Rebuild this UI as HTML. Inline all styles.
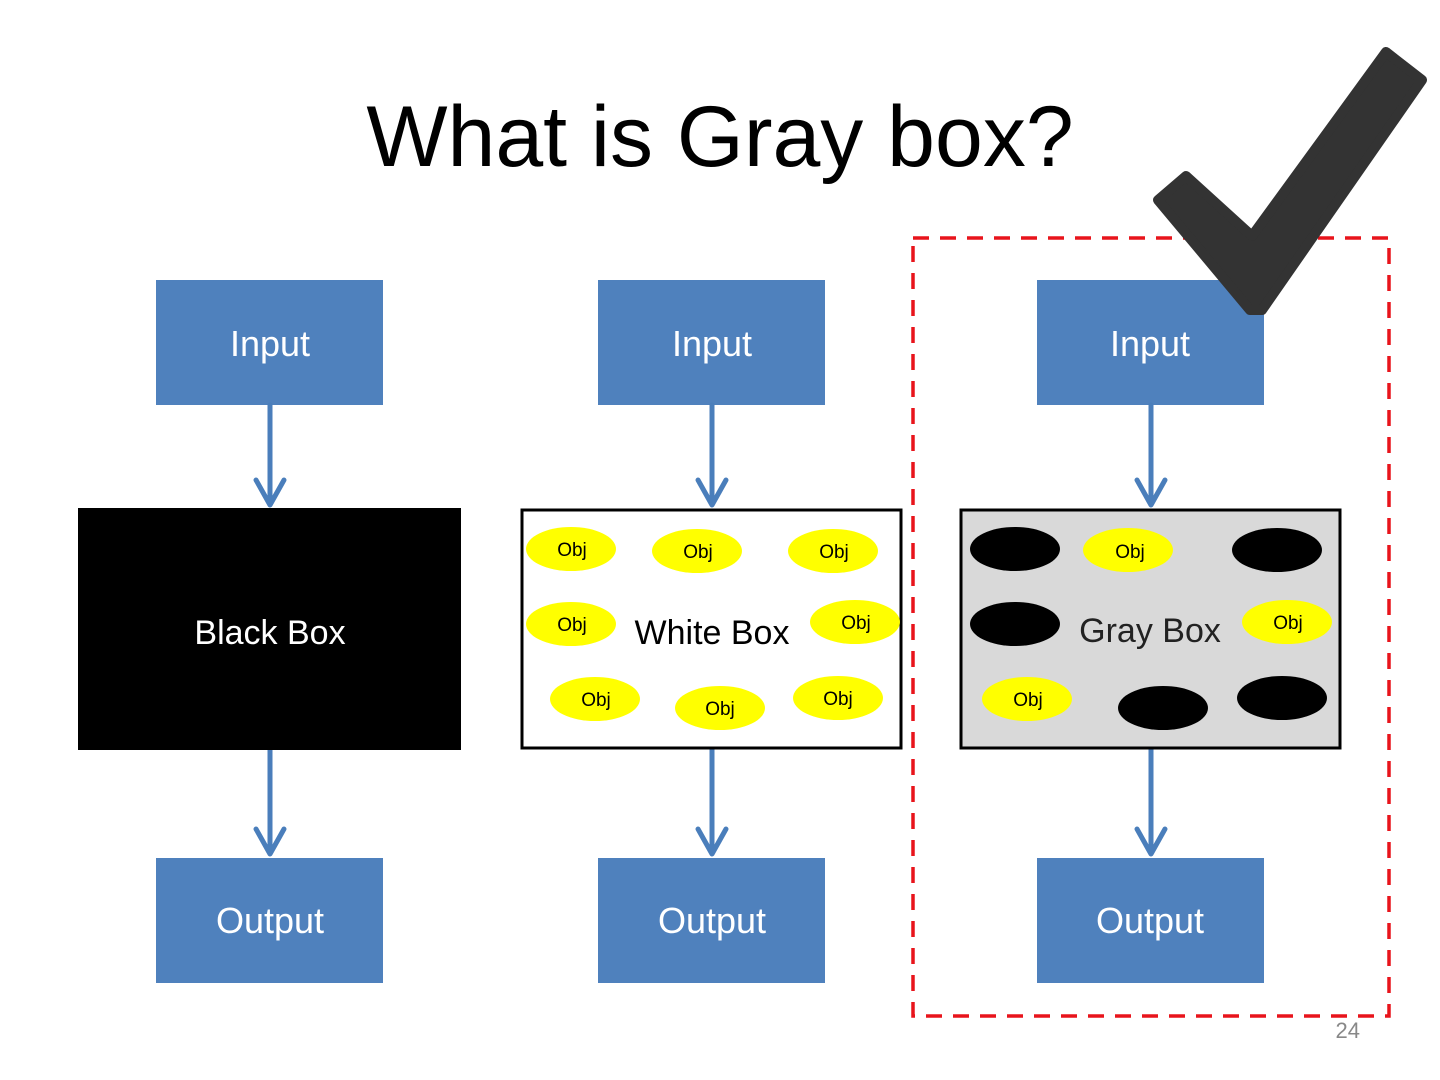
<!DOCTYPE html>
<html><head><meta charset="utf-8"><style>
html,body{margin:0;padding:0;background:#fff;}
svg{display:block;}
text{font-family:"Liberation Sans",sans-serif;}
</style></head><body>
<svg width="1440" height="1080" viewBox="0 0 1440 1080" xmlns="http://www.w3.org/2000/svg">
<rect width="1440" height="1080" fill="#fff"/>
<text x="720" y="166" font-size="86" text-anchor="middle" fill="#000">What is Gray box?</text>

<rect x="913" y="238" width="476" height="778" fill="none" stroke="#e8141b" stroke-width="3.5" stroke-dasharray="16,11"/>

<g fill="#4f81bd">
<rect x="156" y="280" width="227" height="125"/>
<rect x="598" y="280" width="227" height="125"/>
<rect x="1037" y="280" width="227" height="125"/>
<rect x="156" y="858" width="227" height="125"/>
<rect x="598" y="858" width="227" height="125"/>
<rect x="1037" y="858" width="227" height="125"/>
</g>
<g font-size="36" fill="#fff" text-anchor="middle">
<text x="270" y="356">Input</text>
<text x="712" y="356">Input</text>
<text x="1150" y="356">Input</text>
<text x="270" y="933">Output</text>
<text x="712" y="933">Output</text>
<text x="1150" y="933">Output</text>
</g>

<g stroke="#4a7ebb" stroke-width="5" fill="none" stroke-linecap="round" stroke-linejoin="round">
<path d="M270 405V505M256 480L270 505L284 480"/>
<path d="M712 405V505M698 480L712 505L726 480"/>
<path d="M1151 405V505M1137 480L1151 505L1165 480"/>
<path d="M270 750V854M256 829L270 854L284 829"/>
<path d="M712 748V854M698 829L712 854L726 829"/>
<path d="M1151 748V854M1137 829L1151 854L1165 829"/>
</g>

<rect x="79" y="509" width="381" height="240" fill="#000" stroke="#000" stroke-width="2"/>
<text x="270" y="644" font-size="34" fill="#fff" text-anchor="middle">Black Box</text>

<rect x="522" y="510" width="379" height="238" fill="#fff" stroke="#000" stroke-width="3"/>
<rect x="961" y="510" width="379" height="238" fill="#d9d9d9" stroke="#000" stroke-width="3"/>

<g fill="#ffff00">
<ellipse cx="571" cy="549" rx="45" ry="22"/>
<ellipse cx="697" cy="551" rx="45" ry="22"/>
<ellipse cx="833" cy="551" rx="45" ry="22"/>
<ellipse cx="571" cy="624" rx="45" ry="22"/>
<ellipse cx="855" cy="622" rx="45" ry="22"/>
<ellipse cx="595" cy="699" rx="45" ry="22"/>
<ellipse cx="720" cy="708" rx="45" ry="22"/>
<ellipse cx="838" cy="698" rx="45" ry="22"/>
<ellipse cx="1128" cy="550" rx="45" ry="22"/>
<ellipse cx="1287" cy="622" rx="45" ry="22"/>
<ellipse cx="1027" cy="699" rx="45" ry="22"/>
</g>
<g fill="#000">
<ellipse cx="1015" cy="549" rx="45" ry="22"/>
<ellipse cx="1277" cy="550" rx="45" ry="22"/>
<ellipse cx="1015" cy="624" rx="45" ry="22"/>
<ellipse cx="1163" cy="708" rx="45" ry="22"/>
<ellipse cx="1282" cy="698" rx="45" ry="22"/>
</g>
<g font-size="19" fill="#000" text-anchor="middle">
<text x="572" y="556">Obj</text>
<text x="698" y="558">Obj</text>
<text x="834" y="558">Obj</text>
<text x="572" y="631">Obj</text>
<text x="856" y="629">Obj</text>
<text x="596" y="706">Obj</text>
<text x="720" y="715">Obj</text>
<text x="838" y="705">Obj</text>
<text x="1130" y="558">Obj</text>
<text x="1288" y="629">Obj</text>
<text x="1028" y="706">Obj</text>
</g>
<text x="712" y="644" font-size="34" fill="#000" text-anchor="middle">White Box</text>
<text x="1150" y="642" font-size="34" fill="#222" text-anchor="middle">Gray Box</text>

<polygon points="1158,200 1186,176 1252,236 1386,52 1422,80 1262,310 1250,310" fill="#333" stroke="#333" stroke-width="10" stroke-linejoin="round"/>

<text x="1360" y="1038" font-size="22" fill="#888" text-anchor="end">24</text>
</svg>
</body></html>
